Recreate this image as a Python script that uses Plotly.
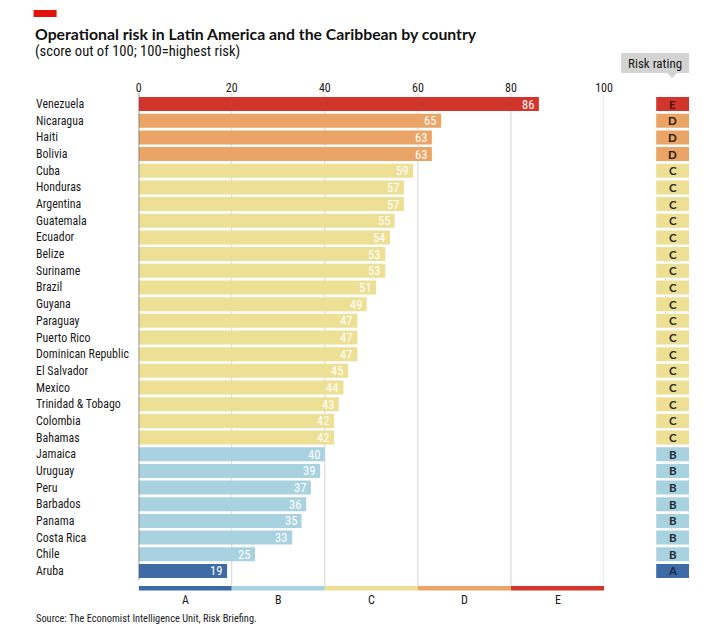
import plotly.graph_objects as go

countries = ["Venezuela", "Nicaragua", "Haiti", "Bolivia", "Cuba", "Honduras", "Argentina",
             "Guatemala", "Ecuador", "Belize", "Suriname", "Brazil", "Guyana", "Paraguay",
             "Puerto Rico", "Dominican Republic", "El Salvador", "Mexico", "Trinidad & Tobago",
             "Colombia", "Bahamas", "Jamaica", "Uruguay", "Peru", "Barbados", "Panama",
             "Costa Rica", "Chile", "Aruba"]
scores = [86, 65, 63, 63, 59, 57, 57, 55, 54, 53, 53, 51, 49, 47, 47, 47, 45, 44, 43,
          42, 42, 40, 39, 37, 36, 35, 33, 25, 19]
ratings = ["E", "D", "D", "D"] + ["C"] * 17 + ["B"] * 7 + ["A"]
grades = ["A", "B", "C", "D", "E"]
grade_lo = [0, 20, 40, 60, 80]
grade_hi = [20, 40, 60, 80, 100]
x_ticks = [0, 20, 40, 60, 80, 100]

colors = {"A": "#3e6aa6", "B": "#a9d2e0", "C": "#ede094", "D": "#e9a466", "E": "#d1352b"}
letter_colors = {"A": "#1c2a44", "B": "#1f2a33", "C": "#2a2a2a", "D": "#2a1a10", "E": "#4a1410"}
OFF = 8  # page body margin
W, H = 700, 622
FONT = "Liberation Sans Narrow, Roboto Condensed, Roboto, sans-serif"

def px_x(p):
    p = (p - 3.6) / 0.982
    return (p - OFF) / W

def px_y(p):
    return 1 - (p - OFF) / H

fig = go.Figure()

fig.add_trace(go.Bar(
    y=countries, x=scores, orientation="h",
    marker=dict(color=[colors[r] for r in ratings], line=dict(width=0)),
    width=0.84, hoverinfo="skip",
    xaxis="x", yaxis="y",
))

fig.add_trace(go.Bar(
    y=countries, x=[1] * len(countries), orientation="h",
    marker=dict(color=[colors[r] for r in ratings], line=dict(width=0)),
    width=0.84, hoverinfo="skip",
    xaxis="x2", yaxis="y",
))

shapes = []
for t in x_ticks[1:]:
    shapes.append(dict(type="line", xref="x", yref="paper", x0=t, x1=t,
                       y0=px_y(590), y1=px_y(93), line=dict(color="#d4d4d4", width=1), layer="below"))
shapes.append(dict(type="line", xref="x", yref="paper", x0=0, x1=0,
                   y0=px_y(580), y1=px_y(93), line=dict(color="#555555", width=1.2), layer="above"))
for g, lo, hi in zip(grades, grade_lo, grade_hi):
    shapes.append(dict(type="rect", xref="x", yref="paper", x0=lo, x1=hi,
                       y0=px_y(590.5), y1=px_y(586), fillcolor=colors[g], line=dict(width=0)))
shapes.append(dict(type="rect", xref="paper", yref="paper", x0=px_x(34), x1=px_x(57),
                   y0=px_y(17), y1=px_y(10), fillcolor="#e3120b", line=dict(width=0)))
shapes.append(dict(type="rect", xref="paper", yref="paper", x0=px_x(621), x1=px_x(689),
                   y0=px_y(73), y1=px_y(53), fillcolor="#d3d3d3", line=dict(width=0)))
shapes.append(dict(type="path", xref="paper", yref="paper",
                   path=f"M {px_x(667)} {px_y(73)} L {px_x(677)} {px_y(73)} L {px_x(672)} {px_y(78)} Z",
                   fillcolor="#d3d3d3", line=dict(width=0)))

annotations = []
for c in countries:
    annotations.append(dict(x=px_x(34), xref="paper", y=c, yref="y", text=c,
                            xanchor="left", yanchor="middle", showarrow=False,
                            font=dict(size=11.9, color="#1a1a1a", family=FONT)))
for c, s in zip(countries, scores):
    annotations.append(dict(x=s, xref="x", y=c, yref="y", text=str(s),
                            xanchor="right", yanchor="middle", xshift=-3, showarrow=False,
                            font=dict(size=12.5, color="white", family=FONT)))
for c, r in zip(countries, ratings):
    annotations.append(dict(x=0.5, xref="x2", y=c, yref="y", text="<b>" + r + "</b>",
                            xanchor="center", yanchor="middle", showarrow=False,
                            font=dict(size=11.5, color=letter_colors[r], family="Lato, sans-serif")))
for g, lo, hi in zip(grades, grade_lo, grade_hi):
    annotations.append(dict(x=(lo + hi) / 2, xref="x", y=px_y(600), yref="paper", text=g,
                            xanchor="center", yanchor="middle", showarrow=False,
                            font=dict(size=12, color="#1a1a1a", family=FONT)))
annotations += [
    dict(x=px_x(33), xref="paper", y=px_y(33), yref="paper",
         text="<b>Operational risk in Latin America and the Caribbean by country</b>",
         xanchor="left", yanchor="middle", showarrow=False,
         font=dict(size=15.8, color="#111111", family="Lato, sans-serif")),
    dict(x=px_x(33), xref="paper", y=px_y(51), yref="paper",
         text="(score out of 100; 100=highest risk)",
         xanchor="left", yanchor="middle", showarrow=False,
         font=dict(size=14.6, color="#111111", family=FONT)),
    dict(x=px_x(34), xref="paper", y=px_y(618), yref="paper",
         text="Source: The Economist Intelligence Unit, Risk Briefing.",
         xanchor="left", yanchor="middle", showarrow=False,
         font=dict(size=10.4, color="#222222", family=FONT)),
    dict(x=px_x(655), xref="paper", y=px_y(63), yref="paper", text="Risk rating",
         xanchor="center", yanchor="middle", showarrow=False,
         font=dict(size=13, color="#1a1a1a", family=FONT)),
]

fig.update_layout(
    width=W, height=H,
    margin=dict(l=0, r=0, t=0, b=0),
    paper_bgcolor="white", plot_bgcolor="rgba(0,0,0,0)",
    showlegend=False, barmode="overlay",
    xaxis=dict(domain=[px_x(139), px_x(604)], range=[0, 100], side="top",
               tickvals=x_ticks, ticktext=[str(t) for t in x_ticks],
               showgrid=False, zeroline=False, showline=False, ticks="",
               tickfont=dict(size=12, color="#1a1a1a", family=FONT), anchor="y"),
    xaxis2=dict(domain=[px_x(656), px_x(689)], range=[0, 1], visible=False, anchor="y"),
    yaxis=dict(domain=[px_y(579.3), px_y(95.7)], categoryorder="array", categoryarray=countries,
               autorange=False, range=[len(countries) - 0.5, -0.5],
               showticklabels=False, showgrid=False, zeroline=False, showline=False, ticks=""),
    shapes=shapes, annotations=annotations,
)

fig.write_html("out.html")
